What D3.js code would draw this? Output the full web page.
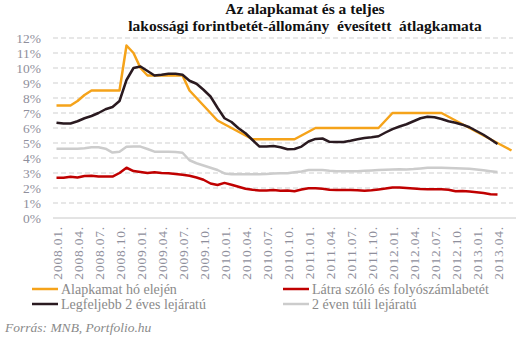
<!DOCTYPE html>
<html>
<head>
<meta charset="utf-8">
<script src="https://cdn.jsdelivr.net/npm/d3@7"></script>
<style>
  body { margin: 0; background: #fff; }
</style>
</head>
<body>
<div id="chart"></div>
<script>
// havi adatok 2008.01 - 2013.06
const months = [
    '2008.01.', '2008.02.', '2008.03.', '2008.04.', '2008.05.', '2008.06.',
    '2008.07.', '2008.08.', '2008.09.', '2008.10.', '2008.11.', '2008.12.',
    '2009.01.', '2009.02.', '2009.03.', '2009.04.', '2009.05.', '2009.06.',
    '2009.07.', '2009.08.', '2009.09.', '2009.10.', '2009.11.', '2009.12.',
    '2010.01.', '2010.02.', '2010.03.', '2010.04.', '2010.05.', '2010.06.',
    '2010.07.', '2010.08.', '2010.09.', '2010.10.', '2010.11.', '2010.12.',
    '2011.01.', '2011.02.', '2011.03.', '2011.04.', '2011.05.', '2011.06.',
    '2011.07.', '2011.08.', '2011.09.', '2011.10.', '2011.11.', '2011.12.',
    '2012.01.', '2012.02.', '2012.03.', '2012.04.', '2012.05.', '2012.06.',
    '2012.07.', '2012.08.', '2012.09.', '2012.10.', '2012.11.', '2012.12.',
    '2013.01.', '2013.02.', '2013.03.', '2013.04.', '2013.05.', '2013.06.'
];

const xLabels = [
    '2008.01.', '2008.04.', '2008.07.', '2008.10.', '2009.01.', '2009.04.',
    '2009.07.', '2009.10.', '2010.01.', '2010.04.', '2010.07.', '2010.10.',
    '2011.01.', '2011.04.', '2011.07.', '2011.10.', '2012.01.', '2012.04.',
    '2012.07.', '2012.10.', '2013.01.', '2013.04.'
];

const alapkamat = [
    7.5, 7.5, 7.5, 7.8, 8.2, 8.5, 8.5, 8.5, 8.5, 8.5, 11.5, 11.0,
    10.0, 9.5, 9.5, 9.5, 9.5, 9.5, 9.5, 8.5, 8.0, 7.5, 7.0, 6.5,
    6.25, 6.0, 5.75, 5.5, 5.25, 5.25, 5.25, 5.25, 5.25, 5.25, 5.25, 5.5,
    5.75, 6.0, 6.0, 6.0, 6.0, 6.0, 6.0, 6.0, 6.0, 6.0, 6.0, 6.5,
    7.0, 7.0, 7.0, 7.0, 7.0, 7.0, 7.0, 7.0, 6.75, 6.5, 6.25, 6.0,
    5.75, 5.5, 5.25, 5.0, 4.75, 4.5
];

const latraSzolo = [
    2.69, 2.69, 2.75, 2.7, 2.8, 2.82, 2.77, 2.76, 2.76, 3.0, 3.35, 3.13,
    3.07, 3.0, 3.05, 3.0, 2.98, 2.94, 2.88, 2.82, 2.7, 2.55, 2.3, 2.2,
    2.34, 2.22, 2.08, 1.95, 1.88, 1.84, 1.83, 1.87, 1.82, 1.84, 1.78, 1.9,
    1.98, 1.98, 1.95, 1.88, 1.87, 1.87, 1.87, 1.85, 1.82, 1.85, 1.9, 1.96,
    2.04, 2.04, 2.0, 1.97, 1.93, 1.91, 1.91, 1.91, 1.88, 1.78, 1.8, 1.76,
    1.72, 1.66, 1.58, 1.56
];

const ketEvesig = [
    6.35, 6.3, 6.3, 6.45, 6.65, 6.8, 7.0, 7.25, 7.4, 7.8, 9.2, 10.0,
    10.1, 9.8, 9.5, 9.55, 9.62, 9.62, 9.55, 9.15, 8.95, 8.55, 8.1, 7.35,
    6.65, 6.4, 5.98, 5.65, 5.2, 4.76, 4.76, 4.8, 4.72, 4.58, 4.6, 4.76,
    5.1, 5.27, 5.3, 5.08, 5.07, 5.07, 5.15, 5.25, 5.33, 5.38, 5.45, 5.7,
    5.93, 6.1, 6.25, 6.45, 6.65, 6.75, 6.72, 6.6, 6.45, 6.35, 6.22, 6.05,
    5.8, 5.55, 5.25, 4.93
];

const ketEvenTul = [
    4.62, 4.62, 4.62, 4.62, 4.65, 4.72, 4.72, 4.62, 4.36, 4.42, 4.75, 4.77,
    4.76, 4.6, 4.42, 4.42, 4.42, 4.4, 4.35, 3.85, 3.65, 3.5, 3.35, 3.2,
    2.97, 2.92, 2.91, 2.91, 2.91, 2.92, 2.93, 2.97, 2.98, 2.98, 3.05, 3.1,
    3.2, 3.2, 3.2, 3.15, 3.12, 3.12, 3.12, 3.12, 3.15, 3.17, 3.2, 3.22,
    3.24, 3.25, 3.24, 3.26, 3.3, 3.35, 3.35, 3.35, 3.33, 3.32, 3.3, 3.28,
    3.24, 3.18, 3.12, 3.07
];

const yTicks = [0, 1, 2, 3, 4, 5, 6, 7, 8, 9, 10, 11, 12];

const series = [
    { name: 'Alapkamat hó elején', values: alapkamat, color: '#f5a31a' },
    { name: 'Látra szóló és folyószámlabetét', values: latraSzolo, color: '#c00000' },
    { name: 'Legfeljebb 2 éves lejáratú', values: ketEvesig, color: '#2a1a20' },
    { name: '2 éven túli lejáratú', values: ketEvenTul, color: '#cccccc' }
];

const width = 531;
const height = 342;
const plot = { left: 53, right: 515, top: 38, bottom: 218 };
const serif = '"Liberation Serif", "DejaVu Serif", serif';

const svg = d3.select('#chart').append('svg')
    .attr('width', width)
    .attr('height', height)
    .attr('font-family', serif);

const x = d3.scalePoint()
    .domain(months)
    .range([plot.left, plot.right])
    .padding(0.5);

const y = d3.scaleLinear()
    .domain([0, 12])
    .range([plot.bottom, plot.top]);

// cím
const title = svg.append('text')
    .attr('text-anchor', 'middle')
    .attr('font-family', serif)
    .attr('font-weight', 'bold')
    .attr('font-size', 15.5)
    .attr('fill', '#111');
title.append('tspan').attr('x', 305).attr('y', 13.5).text('Az alapkamat és a teljes');
title.append('tspan').attr('x', 305).attr('y', 30.5).style('white-space', 'pre')
    .text('lakossági forintbetét-állomány  évesített  átlagkamata');

// rácsvonalak
svg.append('g')
    .selectAll('line')
    .data(yTicks)
    .join('line')
    .attr('x1', plot.left)
    .attr('x2', d => d === 0 ? plot.right + 1 : plot.right - 2)
    .attr('y1', d => y(d))
    .attr('y2', d => y(d))
    .attr('stroke', d => d === 0 ? '#c8c8c8' : '#cfcfcf')
    .attr('stroke-width', 1)
    .attr('stroke-dasharray', d => d === 0 ? null : '5,3');

// y tengely feliratok
svg.append('g')
    .selectAll('text')
    .data(yTicks)
    .join('text')
    .attr('x', 41)
    .attr('y', d => y(d))
    .attr('dy', '0.35em')
    .attr('text-anchor', 'end')
    .attr('font-family', serif)
    .attr('font-size', 13.5)
    .attr('fill', '#8f8f9c')
    .text(d => d + '%');

// x tengely feliratok (minden harmadik hónap)
svg.append('g')
    .selectAll('text')
    .data(xLabels)
    .join('text')
    .attr('transform', d => `translate(${x(d) + 1},226) rotate(-90)`)
    .attr('dy', '0.35em')
    .attr('text-anchor', 'end')
    .attr('font-family', serif)
    .attr('font-size', 13.5)
    .attr('letter-spacing', 0.8)
    .attr('fill', '#8f8f9c')
    .text(d => d);

// vonalak
const line = d3.line()
    .x((d, i) => x(months[i]))
    .y(d => y(d));

svg.append('g')
    .selectAll('path')
    .data([series[3], series[1], series[0], series[2]])
    .join('path')
    .attr('d', d => line(d.values))
    .attr('fill', 'none')
    .attr('stroke', d => d.color)
    .attr('stroke-width', 2.5)
    .attr('stroke-linejoin', 'round');

// jelmagyarázat
const legendPos = [[32, 289], [283, 289], [32, 304], [283, 304]];
const legend = svg.append('g')
    .selectAll('g')
    .data(series)
    .join('g')
    .attr('transform', (d, i) => `translate(${legendPos[i][0]},${legendPos[i][1]})`);

legend.append('line')
    .attr('x1', 0).attr('x2', 26)
    .attr('stroke', d => d.color)
    .attr('stroke-width', 2.5);

legend.append('text')
    .attr('x', 29)
    .attr('dy', '0.35em')
    .attr('font-family', serif)
    .attr('font-size', 14)
    .attr('fill', '#8a8a8a')
    .text(d => d.name);

// forrás
svg.append('text')
    .attr('x', 5)
    .attr('y', 332)
    .attr('font-family', serif)
    .attr('font-size', 13.5)
    .attr('font-style', 'italic')
    .attr('fill', '#8a8a8a')
    .text('Forrás: MNB, Portfolio.hu');
</script>
</body>
</html>
